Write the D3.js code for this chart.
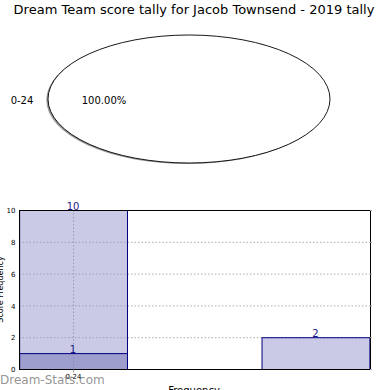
<!DOCTYPE html>
<html>
<head>
<meta charset="utf-8">
<script src="https://cdn.jsdelivr.net/npm/d3@7"></script>
<style>
  body { margin: 0; background: #fff; }
  svg { display: block; font-family: 'DejaVu Sans', sans-serif; }
</style>
</head>
<body>
<div class="chart"></div>
<script>
const width = 390;
const height = 390;

// pie data
const pieLabels = ['0-24'];
const pieValues = [100];

// bar data (x positions are slot indexes)
const barSlots = [0, 1];
const barValues = [10, 2];
const overlaySlots = [0];
const overlayValues = [1];
const tickSlots = [0];
const tickLabels = ['0-24'];
const yTicks = [0, 2, 4, 6, 8, 10];

const svg = d3
  .select('.chart')
  .append('svg')
  .attr('width', width)
  .attr('height', height);

svg
  .append('text')
  .attr('x', 194)
  .attr('y', 14)
  .attr('text-anchor', 'middle')
  .attr('font-size', 13)
  .text('Dream Team score tally for Jacob Townsend - 2019 tally');

////// PIE (drawn squashed into an ellipse) //////
const r = 100;
const pie = d3.pie().sort(null)(pieValues);
const arc = d3.arc().innerRadius(0).outerRadius(r);

const pieG = svg
  .append('g')
  .attr('transform', `translate(189,99) scale(${141 / r},${64 / r})`);

// shadow
pieG
  .append('g')
  .attr('transform', 'translate(-1.2,1.6)')
  .selectAll('path')
  .data(pie)
  .join('path')
  .attr('d', arc)
  .attr('fill', '#999')
  .attr('stroke', 'none');

pieG
  .selectAll('path.slice')
  .data(pie)
  .join('path')
  .attr('class', 'slice')
  .attr('d', arc)
  .attr('fill', '#fff')
  .attr('stroke', '#000')
  .attr('stroke-width', 0.9)
  .attr('vector-effect', 'non-scaling-stroke');

svg
  .selectAll('text.pie-label')
  .data(pieLabels)
  .join('text')
  .attr('class', 'pie-label')
  .attr('x', 22)
  .attr('y', 104)
  .attr('text-anchor', 'middle')
  .attr('font-size', 10)
  .text((d) => d);

svg
  .selectAll('text.pie-pct')
  .data(pieValues)
  .join('text')
  .attr('class', 'pie-pct')
  .attr('x', 104)
  .attr('y', 104)
  .attr('text-anchor', 'middle')
  .attr('font-size', 10)
  .text((d) => d.toFixed(2) + '%');

////// BAR CHART //////
const plotLeft = 19;
const plotRight = 370;
const plotTop = 210;
const plotBottom = 369;
const barW = 0.445;

const x = d3.scaleLinear().domain([-0.223, 1.225]).range([plotLeft, plotRight]);
const y = d3.scaleLinear().domain([0, 10]).range([plotBottom, plotTop]);

// grid
svg
  .append('g')
  .selectAll('line')
  .data(yTicks.filter((d) => d > 0 && d < 10))
  .join('line')
  .attr('x1', plotLeft)
  .attr('x2', plotRight)
  .attr('y1', (d) => y(d) + 0.5)
  .attr('y2', (d) => y(d) + 0.5)
  .attr('stroke', '#aaa')
  .attr('stroke-dasharray', '1.5,2');

svg
  .append('g')
  .selectAll('line')
  .data(tickSlots)
  .join('line')
  .attr('x1', (d) => x(d) + 0.5)
  .attr('x2', (d) => x(d) + 0.5)
  .attr('y1', plotTop)
  .attr('y2', plotBottom)
  .attr('stroke', '#999')
  .attr('stroke-dasharray', '1.5,2');

// bars
svg
  .append('g')
  .selectAll('rect')
  .data(barSlots)
  .join('rect')
  .attr('x', (d) => x(d - barW / 2) + 0.5)
  .attr('y', (d, i) => y(barValues[i]) + 0.5)
  .attr('width', x(barW) - x(0))
  .attr('height', (d, i) => y(0) - y(barValues[i]))
  .attr('fill', 'rgba(150,150,205,0.5)')
  .attr('stroke', '#000080')
  .attr('stroke-width', 1);

svg
  .append('g')
  .selectAll('rect')
  .data(overlaySlots)
  .join('rect')
  .attr('x', (d) => x(d - barW / 2) + 0.5)
  .attr('y', (d, i) => y(overlayValues[i]) + 0.5)
  .attr('width', x(barW) - x(0))
  .attr('height', (d, i) => y(0) - y(overlayValues[i]))
  .attr('fill', 'rgba(120,120,185,0.55)')
  .attr('stroke', '#000080')
  .attr('stroke-width', 1);

// value labels
svg
  .append('g')
  .selectAll('text')
  .data(barSlots)
  .join('text')
  .attr('x', (d) => x(d))
  .attr('y', (d, i) => y(barValues[i]) - 0)
  .attr('text-anchor', 'middle')
  .attr('font-size', 10)
  .attr('fill', '#1a1a8a')
  .text((d, i) => barValues[i]);

svg
  .append('g')
  .selectAll('text')
  .data(overlaySlots)
  .join('text')
  .attr('x', (d) => x(d))
  .attr('y', (d, i) => y(overlayValues[i]) - 0)
  .attr('text-anchor', 'middle')
  .attr('font-size', 10)
  .attr('fill', '#1a1a8a')
  .text((d, i) => overlayValues[i]);

// frame
svg
  .append('rect')
  .attr('x', plotLeft + 0.5)
  .attr('y', plotTop + 0.5)
  .attr('width', plotRight - plotLeft)
  .attr('height', plotBottom - plotTop)
  .attr('fill', 'none')
  .attr('stroke', '#000')
  .attr('stroke-width', 1);

// y axis
svg
  .append('g')
  .attr('transform', `translate(${plotLeft + 0.5},0.5)`)
  .call(d3.axisLeft(y).tickValues(yTicks).tickSize(0).tickPadding(4))
  .call((g) => g.select('.domain').remove())
  .call((g) => g.selectAll('text').attr('font-size', 7).attr('font-family', 'DejaVu Sans'));

// right ticks
svg
  .append('g')
  .selectAll('line')
  .data(yTicks)
  .join('line')
  .attr('x1', plotRight)
  .attr('x2', plotRight + 2)
  .attr('y1', (d) => y(d) + 0.5)
  .attr('y2', (d) => y(d) + 0.5)
  .attr('stroke', '#aaa');

// x axis
svg
  .append('g')
  .attr('transform', `translate(0,${plotBottom + 0.5})`)
  .call(d3.axisBottom(x).tickValues(tickSlots).tickFormat((d, i) => tickLabels[i]).tickSize(3).tickPadding(2))
  .call((g) => g.select('.domain').remove())
  .call((g) => g.selectAll('line').attr('stroke', '#999'))
  .call((g) => g.selectAll('text').attr('font-size', 7).attr('font-family', 'DejaVu Sans'));

svg
  .append('text')
  .attr('transform', `translate(3,${(plotTop + plotBottom) / 2}) rotate(-90)`)
  .attr('text-anchor', 'middle')
  .attr('font-size', 8)
  .text('Score Frequency');

svg
  .append('text')
  .attr('x', 194)
  .attr('y', 394)
  .attr('text-anchor', 'middle')
  .attr('font-size', 10)
  .text('Frequency');

// watermark
svg
  .append('text')
  .attr('x', 0)
  .attr('y', 384)
  .attr('font-size', 12)
  .attr('fill', '#888')
  .attr('fill-opacity', 0.9)
  .text('Dream-Stats.com');
</script>
</body>
</html>
